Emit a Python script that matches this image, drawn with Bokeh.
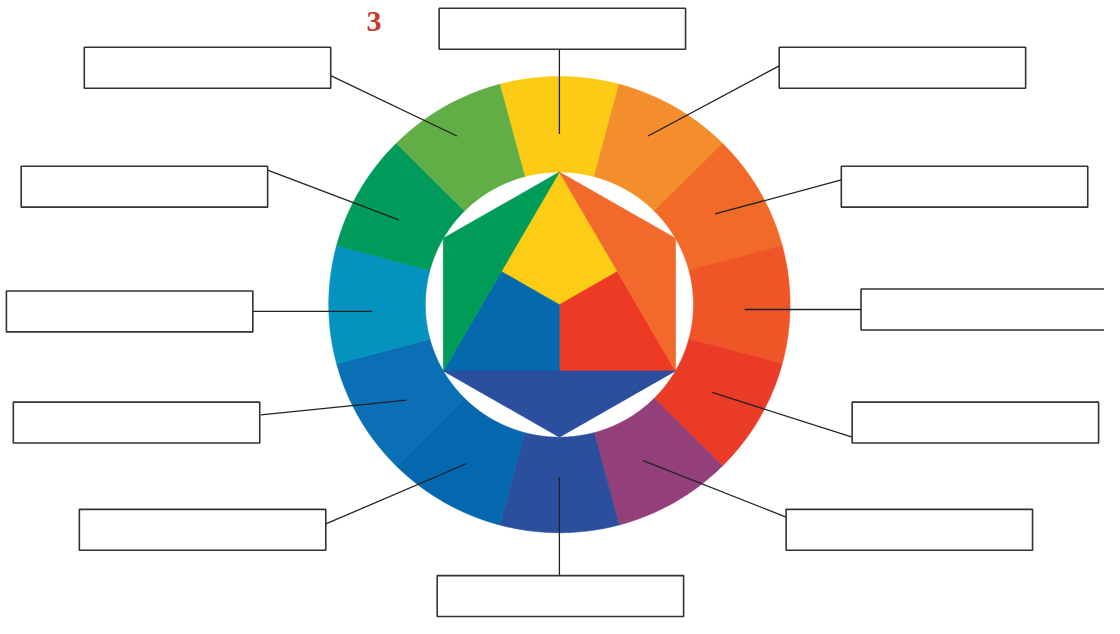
import numpy as np
from bokeh.plotting import figure
from bokeh.models import Range1d, ColumnDataSource
from bokeh.core.properties import value
from bokeh.embed import file_html
from bokeh.resources import INLINE

# ---- data ----
ring_names = ["yellow", "yellow-orange", "orange", "red-orange", "red", "red-violet",
              "violet", "blue-violet", "blue", "blue-green", "green", "yellow-green"]
ring_colors = ["#FCCB16", "#F48D2B", "#F16A27", "#EF5627", "#EA3B26", "#933F7A",
               "#2C4F9D", "#0568AF", "#0A6FB5", "#0393BE", "#009A5A", "#60AE45"]
inner_names = ["yellow", "red", "blue", "orange", "violet", "green"]
inner_colors = ["#FDCD15", "#EC3A25", "#0569AE", "#F26A2B", "#2C4E9E", "#009B57"]
labels = [""] * 12
title_text = "3"

# ---- layout ----
W, H = 1104, 618
cx, cy = 567, 312
R_out, R_in = 234, 136

p = figure(width=W, height=H, output_backend="svg", toolbar_location=None,
           x_range=Range1d(0, 1120), y_range=Range1d(634, 0),
           min_border=0, background_fill_color="white", border_fill_color="white")
p.axis.visible = False
p.grid.visible = False
p.outline_line_color = None

def pt(r, deg):
    a = np.radians(deg)
    return cx + r * np.sin(a), cy - r * np.cos(a)

# ring segments
xs, ys = [], []
for i in range(12):
    c = i * 30
    t = np.linspace(c - 15, c + 15, 40)
    ox, oy = pt(R_out, t)
    ix, iy = pt(R_in, t[::-1])
    xs.append(list(np.concatenate([ox, ix])))
    ys.append(list(np.concatenate([oy, iy])))
p.patches(xs=xs, ys=ys, fill_color=ring_colors, line_color=ring_colors, line_width=0.6)

# inner hexagon / triangle
hv = [pt(R_in, a) for a in range(0, 360, 60)]  # top, UR, LR, bottom, LL, UL
T, UR, LR, B, LL, UL = hv
cen = ((T[0] + LR[0] + LL[0]) / 3, (T[1] + LR[1] + LL[1]) / 3)
mid = lambda a, b: ((a[0] + b[0]) / 2, (a[1] + b[1]) / 2)
mL, mR, mB = mid(T, LL), mid(T, LR), mid(LL, LR)
polys = [
    [T, mR, cen, mL],      # yellow
    [LR, mB, cen, mR],     # red
    [LL, mL, cen, mB],     # blue
    [T, UR, LR],           # orange
    [LL, LR, B],           # violet
    [T, LL, UL],           # green
]
p.patches(xs=[[v[0] for v in q] for q in polys], ys=[[v[1] for v in q] for q in polys],
          fill_color=inner_colors, line_color=inner_colors, line_width=0.6)

# label boxes (left, top) and leader lines
box_w, box_h = 250, 42
box_pos = [(445, 8), (790, 48), (853, 170), (873, 296), (864, 412), (797, 522),
           (443, 590), (80, 522), (13, 412), (6, 298), (21, 170), (85, 48)]
lead = [((567, 50), (567, 137)), ((790, 67), (657, 139)), ((853, 184), (725, 219)),
        ((873, 317), (755, 317)), ((864, 448), (722, 402)), ((797, 530), (652, 472)),
        ((567, 590), (567, 489)), ((330, 537), (473, 475)), ((264, 425), (412, 410)),
        ((256, 319), (377, 319)), ((271, 174), (404, 225)), ((335, 77), (463, 139))]

p.segment(x0=[a[0][0] for a in lead], y0=[a[0][1] for a in lead],
          x1=[a[1][0] for a in lead], y1=[a[1][1] for a in lead],
          line_color="#222222", line_width=1.3)

bsrc = ColumnDataSource(dict(left=[b[0] for b in box_pos], right=[b[0] + box_w for b in box_pos],
                             top=[b[1] for b in box_pos], bottom=[b[1] + box_h for b in box_pos],
                             label=labels, tx=[b[0] + box_w / 2 for b in box_pos],
                             ty=[b[1] + box_h / 2 for b in box_pos]))
p.quad(left="left", right="right", top="top", bottom="bottom", source=bsrc,
       fill_color="white", line_color="#333333", line_width=1.6)
p.text(x="tx", y="ty", text="label", source=bsrc, text_align="center", text_baseline="middle",
       text_font=value("Liberation Sans"), text_font_size="14px", text_color="#222222")

p.text(x=[379], y=[22], text=[title_text], text_align="center", text_baseline="middle",
       text_font=value("Liberation Serif"), text_font_style="bold", text_font_size="30px",
       text_color="#C8372B")

open("out.html", "w").write(file_html(p, INLINE))
